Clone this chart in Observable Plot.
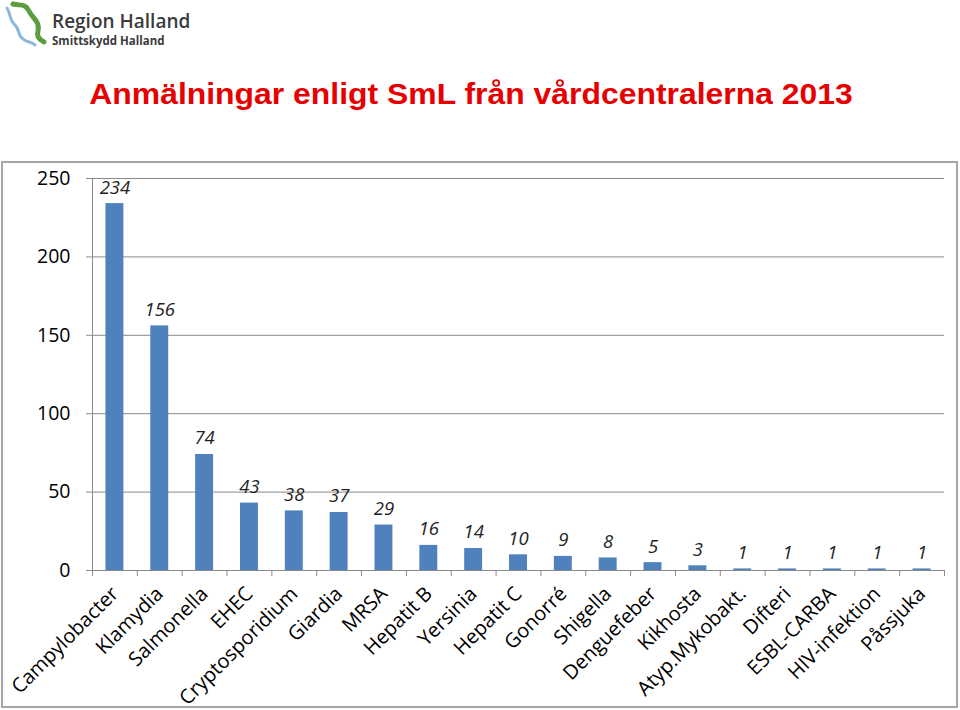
<!DOCTYPE html>
<html><head><meta charset="utf-8">
<script src="https://cdn.jsdelivr.net/npm/d3@7"></script>
<script src="https://cdn.jsdelivr.net/npm/@observablehq/plot@0.6"></script>
<style>
body{margin:0;background:#fff;}
#page{position:relative;width:960px;height:710px;overflow:hidden;font-family:"Open Sans",sans-serif;}
#logo{position:absolute;left:0;top:0;}
#title{position:absolute;left:0;top:77px;width:942px;text-align:center;font:bold 29px "Liberation Sans",Arial,sans-serif;line-height:34px;color:#e60000;transform:scaleX(1.1);transform-origin:471px 0;}
#frame{position:absolute;left:1px;top:161px;width:957px;height:547px;border:2px solid #a6a6a6;box-sizing:border-box;}
#chart{position:absolute;left:0;top:161px;}
</style></head><body>
<div id="page">
<svg id="logo" width="200" height="50">
  <path d="M7,8 C11,14 9,20 15,25 C20,29 17,35 23,39 C27,43 31,41 35,45" fill="none" stroke="#8bb8de" stroke-width="3" stroke-linecap="round"/>
  <path d="M13,4 C21,6 25,3 29,11 C33,19 40,21 38,31 C36,37 40,40 44,42" fill="none" stroke="#5d9c3f" stroke-width="5" stroke-linecap="round"/>
  <text x="52" y="28" font-family="Open Sans" font-weight="600" font-size="19" fill="#3b3b3b">Region Halland</text>
  <text x="52" y="45" font-family="Open Sans" font-weight="700" font-size="11.5" fill="#3b3b3b">Smittskydd Halland</text>
</svg>
<div id="title">Anmälningar enligt SmL från vårdcentralerna 2013</div>
<div id="frame"></div>
<div id="chart"></div>
</div>
<script>
const categories = ["Campylobacter","Klamydia","Salmonella","EHEC","Cryptosporidium","Giardia","MRSA","Hepatit B","Yersinia","Hepatit C","Gonorré","Shigella","Denguefeber","Kikhosta","Atyp.Mykobakt.","Difteri","ESBL-CARBA","HIV-infektion","Påssjuka"];
const values = [234,156,74,43,38,37,29,16,14,10,9,8,5,3,1,1,1,1,1];
const yTicks = [0,50,100,150,200,250];
const data = categories.map((c,i)=>({category:c, value:values[i]}));
const W=960, H=548, mL=92, mR=16, mT=17, mB=139;
const step = (W-mL-mR)/categories.length;
const grey = "#8a8a8a";
const plot = Plot.plot({
  width:W, height:H, marginLeft:mL, marginRight:mR, marginTop:mT, marginBottom:mB,
  style:{fontFamily:"Open Sans", background:"transparent", overflow:"visible"},
  x:{domain:categories, paddingInner:0.6, paddingOuter:0.3, round:false, label:null},
  y:{domain:[0,250], label:null},
  marks:[
    Plot.gridY(yTicks,{stroke:grey, strokeOpacity:1}),
    Plot.frame({anchor:"left", stroke:grey}),
    Plot.ruleY([0],{stroke:grey}),
    Plot.ruleX(categories,{x:d=>d, y1:0, y2:0, insetBottom:-6, dx:-step/2, stroke:grey}),
    Plot.ruleX([categories[categories.length-1]],{x:d=>d, y1:0, y2:0, insetBottom:-6, dx:step/2, stroke:grey}),
    Plot.barY(data,{x:"category", y:"value", fill:"#4f81bd"}),
    Plot.text(data,{x:"category", y:"value", text:d=>String(d.value), dy:-16, fontStyle:"italic", fontSize:18.5, fill:"#222"}),
    Plot.axisY(yTicks,{tickSize:6, tickPadding:16, fontSize:19.5, stroke:grey, fill:"#000", label:null}),
    Plot.axisX({tickSize:0, tickRotate:-45, tickPadding:20, fontSize:20, fill:"#000", label:null})
  ]
});
document.getElementById("chart").appendChild(plot);
</script>
</body></html>
